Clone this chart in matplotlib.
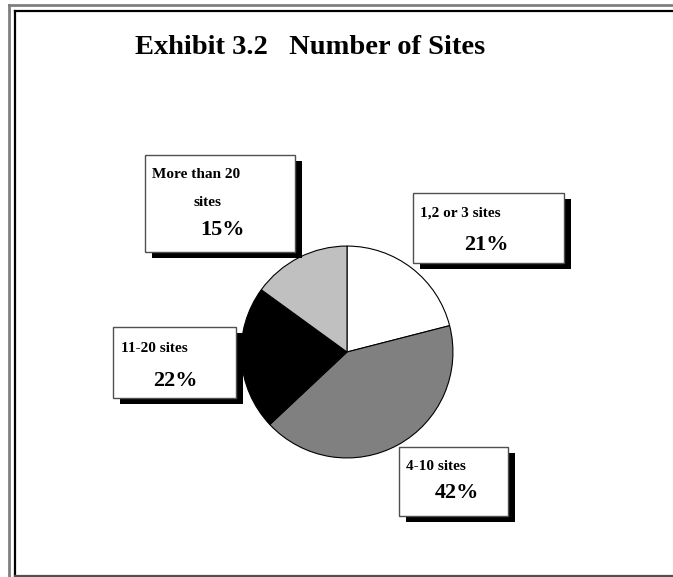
import matplotlib
matplotlib.use("Agg")
import matplotlib.pyplot as plt
from matplotlib.patches import Rectangle
from matplotlib.lines import Line2D

# ---- data ----
categories = ["1,2 or 3 sites", "4-10 sites", "11-20 sites", "More than 20 sites"]
shares = [21, 42, 22, 15]
colors = ["#ffffff", "#808080", "#000000", "#c0c0c0"]
title = "Exhibit 3.2   Number of Sites"

W, H = 673, 577
fig = plt.figure(figsize=(W / 100, H / 100), dpi=100)
fig.patch.set_facecolor("white")

# page frame lines (figure pixel coords)
def fl(x0, y0, x1, y1, color, lw):
    fig.add_artist(Line2D([x0 / W, x1 / W], [1 - y0 / H, 1 - y1 / H],
                          color=color, lw=lw, transform=fig.transFigure))

fl(9, 5, W, 5, "#808080", 2.0)
fl(9, 5, 9, H, "#808080", 2.0)
fl(15, 11, W, 11, "#000000", 1.6)
fl(15, 11, 15, 576, "#000000", 1.6)
fl(15, 576, W, 576, "#505050", 1.6)

# pie axes
cx, cy, r = 347, 352, 107
pax = fig.add_axes([(cx - r) / W, 1 - (cy + r) / H, 2 * r / W, 2 * r / H])
pax.pie(shares, colors=colors, startangle=90, counterclock=False,
        wedgeprops=dict(edgecolor="black", linewidth=0.8))
pax.set_xlim(-1.01, 1.01)
pax.set_ylim(-1.01, 1.01)
pax.set_aspect("equal")
pax.axis("off")

# overlay axes in pixel coordinates
ax = fig.add_axes([0, 0, 1, 1])
ax.set_xlim(0, W)
ax.set_ylim(H, 0)
ax.axis("off")
ax.patch.set_alpha(0)

serif = ["Liberation Serif", "DejaVu Serif"]
ax.text(310, 48, title, ha="center", va="center", fontsize=20.5,
        fontweight="bold", family=serif)

# label boxes: (x0, y0, x1, y1)
boxes = {
    "More than 20 sites": (145, 155, 295, 252),
    "1,2 or 3 sites": (413, 193, 564, 263),
    "11-20 sites": (113, 327, 236, 398),
    "4-10 sites": (399, 447, 508, 516),
}
for (x0, y0, x1, y1) in boxes.values():
    ax.add_patch(Rectangle((x0 + 7, y0 + 6), x1 - x0, y1 - y0,
                           facecolor="black", edgecolor="none", zorder=2))
    ax.add_patch(Rectangle((x0, y0), x1 - x0, y1 - y0,
                           facecolor="white", edgecolor="#505050", lw=1.0, zorder=3))

lab_kw = dict(fontweight="bold", family=serif, zorder=4, va="center", ha="left")
pct = {c: f"{v}%" for c, v in zip(categories, shares)}

ax.text(152, 175, "More than 20", fontsize=11, **lab_kw)
ax.text(193, 203, "sites", fontsize=11, **lab_kw)
ax.text(200, 230, pct["More than 20 sites"], fontsize=16, **lab_kw)

ax.text(420, 213, "1,2 or 3 sites", fontsize=11, **lab_kw)
ax.text(464, 245, pct["1,2 or 3 sites"], fontsize=16, **lab_kw)

ax.text(121, 348, "11-20 sites", fontsize=11, **lab_kw)
ax.text(153, 381, pct["11-20 sites"], fontsize=16, **lab_kw)

ax.text(406, 467, "4-10 sites", fontsize=11, **lab_kw)
ax.text(435, 493, pct["4-10 sites"], fontsize=16, **lab_kw)

fig.savefig("out.png", dpi=100)
